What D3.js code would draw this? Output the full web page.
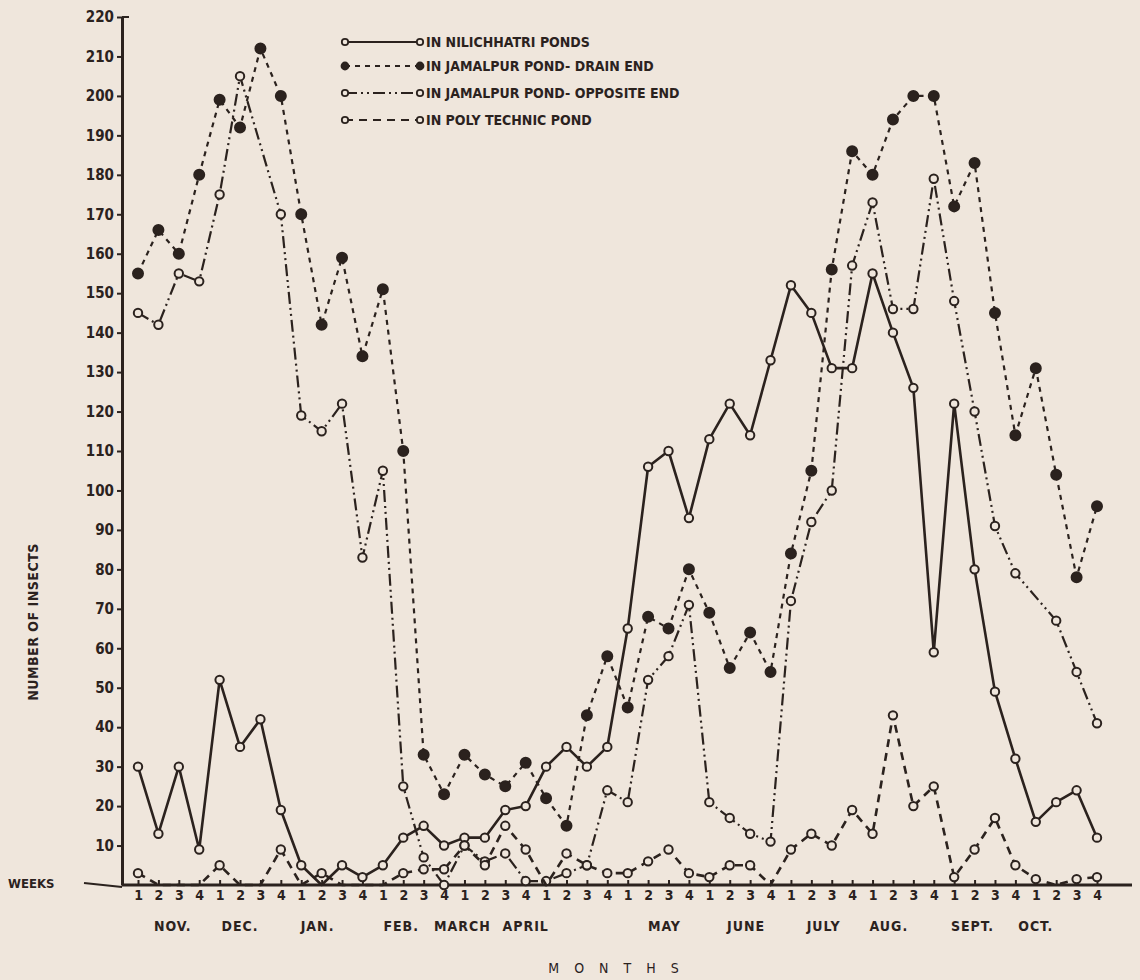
<!DOCTYPE html>
<html>
<head>
<meta charset="utf-8">
<script src="https://cdn.jsdelivr.net/npm/d3@7"></script>
<style>
  html, body { margin: 0; padding: 0; background: #efe6dc; }
  svg { display: block; }
  text { fill: #2b221e; font-family: "Liberation Sans Narrow", "DejaVu Sans Condensed", "DejaVu Sans", sans-serif; }
</style>
</head>
<body>
<svg id="chart" width="1140" height="980"></svg>
<script>
// ---------------- DATA ----------------
const months = ["NOV.", "DEC.", "JAN.", "FEB.", "MARCH", "APRIL", "MAY", "JUNE", "JULY", "AUG.", "SEPT.", "OCT."];
const weekLabels = ["1", "2", "3", "4"];
const yTicks = [10, 20, 30, 40, 50, 60, 70, 80, 90, 100, 110, 120, 130, 140, 150, 160, 170, 180, 190, 200, 210, 220];

const seriesNames = [
  "IN NILICHHATRI PONDS",
  "IN JAMALPUR POND- DRAIN END",
  "IN JAMALPUR POND- OPPOSITE END",
  "IN POLY TECHNIC POND"
];

const nilichhatri = [30, 13, 30, 9, 52, 35, 42, 19, 5, 0, 5, 2, 5, 12, 15, 10, 12, 12, 19, 20, 30, 35, 30, 35,
  65, 106, 110, 93, 113, 122, 114, 133, 152, 145, 131, 131, 155, 140, 126, 59, 122, 80, 49, 32, 16, 21, 24, 12];

const drainEnd = [155, 166, 160, 180, 199, 192, 212, 200, 170, 142, 159, 134, 151, 110, 33, 23, 33, 28, 25, 31, 22, 15, 43, 58,
  45, 68, 65, 80, 69, 55, 64, 54, 84, 105, 156, 186, 180, 194, 200, 200, 172, 183, 145, 114, 131, 104, 78, 96];

const oppositeEnd = [145, 142, 155, 153, 175, 205, null, 170, 119, 115, 122, 83, 105, 25, 7, 0, 10, 6, 8, 1, 1, 3, 5, 24,
  21, 52, 58, 71, 21, 17, 13, 11, 72, 92, 100, 157, 173, 146, 146, 179, 148, 120, 91, 79, null, 67, 54, 41];

const polytechnic = [3, 0, 0, 0, 5, 0, 0, 9, 0, 3, 0, 0, 0, 3, 4, 4, 10, 5, 15, 9, 0, 8, 5, 3,
  3, 6, 9, 3, 2, 5, 5, 0, 9, 13, 10, 19, 13, 43, 20, 25, 2, 9, 17, 5, 1.5, 0, 1.5, 2];

// ---------------- LAYOUT ----------------
// where each month name sits, in week units along the x scale (as lettered in the original)
const monthLabelAnchor = [1.7, 5.0, 8.8, 12.9, 15.9, 19.0, 25.8, 29.8, 33.6, 36.8, 40.9, 44.0];

// ---------------- CHART ----------------
const ink = "#2b221e";
const bg = "#efe6dc";
const svg = d3.select("#chart");

const nWeeks = months.length * weekLabels.length;
const x = d3.scaleLinear().domain([0, nWeeks - 1]).range([138, 1097]);
const y = d3.scaleLinear().domain([0, 220]).range([885, 17]);

// y axis
const yAxis = svg.append("g")
  .attr("transform", "translate(122,0)")
  .call(d3.axisLeft(y).tickValues(yTicks).tickSize(5).tickSizeOuter(0).tickPadding(3));
yAxis.select(".domain").attr("stroke", ink).attr("stroke-width", 3);
yAxis.selectAll(".tick line").attr("stroke", ink).attr("stroke-width", 2);
yAxis.selectAll(".tick text")
  .style("font-size", "15px").style("font-weight", "bold").attr("fill", ink);
yAxis.append("line").attr("x1", 0).attr("x2", 7).attr("y1", y(220)).attr("y2", y(220))
  .attr("stroke", ink).attr("stroke-width", 2);

// x axis (weeks)
const weekIdx = d3.range(nWeeks);
const xAxis = svg.append("g")
  .attr("transform", `translate(0,${y(0)})`)
  .call(d3.axisBottom(x).tickValues(weekIdx).tickSize(-5).tickSizeOuter(0).tickPadding(5)
    .tickFormat(i => weekLabels[i % weekLabels.length]));
xAxis.select(".domain").remove();
xAxis.append("line").attr("x1", 122).attr("x2", 1132).attr("y1", 0).attr("y2", 0)
  .attr("stroke", ink).attr("stroke-width", 3);
xAxis.selectAll(".tick line").attr("stroke", ink).attr("stroke-width", 2);
xAxis.selectAll(".tick text")
  .style("font-size", "14px").style("font-weight", "bold").attr("fill", ink);

// WEEKS label + leader
svg.append("text").attr("x", 8).attr("y", 888).text("WEEKS")
  .style("font-size", "13px").style("font-weight", "bold");
svg.append("line").attr("x1", 84).attr("x2", 122).attr("y1", 883).attr("y2", 887)
  .attr("stroke", ink).attr("stroke-width", 2);

// month labels
svg.append("g").selectAll("text").data(months).join("text")
  .attr("x", (d, i) => x(monthLabelAnchor[i]))
  .attr("y", 931)
  .attr("text-anchor", "middle")
  .style("font-size", "14px").style("font-weight", "bold").style("letter-spacing", "1px")
  .text(d => d);

svg.append("text").attr("x", 621).attr("y", 973).attr("text-anchor", "middle")
  .style("font-size", "14px").style("letter-spacing", "15px").text("MONTHS");

svg.append("text")
  .attr("transform", "translate(38,622) rotate(-90)")
  .attr("text-anchor", "middle")
  .style("font-size", "14px").style("font-weight", "bold").style("letter-spacing", "0.5px")
  .text("NUMBER OF INSECTS");

// series styles
const styles = [
  { data: nilichhatri, dash: null, width: 2.6, filled: false, skipZero: true },
  { data: drainEnd, dash: "5,5", width: 2.2, filled: true, skipZero: false },
  { data: oppositeEnd, dash: "12,4,2,4,2,4", width: 2.2, filled: false, skipZero: false },
  { data: polytechnic, dash: "8,6", width: 2.6, filled: false, skipZero: true }
];

const line = d3.line().x(d => x(d.i)).y(d => y(d.v));

styles.forEach(s => {
  const pts = s.data.map((v, i) => ({ i, v })).filter(d => d.v !== null);
  svg.append("path").datum(pts)
    .attr("d", line).attr("fill", "none")
    .attr("stroke", ink).attr("stroke-width", s.width)
    .attr("stroke-dasharray", s.dash)
    .attr("stroke-linejoin", "round");
  svg.append("g").selectAll("circle")
    .data(pts.filter(d => !(s.skipZero && d.v === 0)))
    .join("circle")
    .attr("cx", d => x(d.i)).attr("cy", d => y(d.v))
    .attr("r", s.filled ? 5 : 4.2)
    .attr("fill", s.filled ? ink : bg)
    .attr("stroke", ink).attr("stroke-width", 2);
});

// legend
const legendRows = [42, 66, 93, 120];
const lg = svg.append("g");
styles.forEach((s, k) => {
  const yy = legendRows[k];
  lg.append("line").attr("x1", 345).attr("x2", 420).attr("y1", yy).attr("y2", yy)
    .attr("stroke", ink).attr("stroke-width", s.width - 0.4).attr("stroke-dasharray", s.dash);
  [345, 420].forEach(cx => {
    lg.append("circle").attr("cx", cx).attr("cy", yy).attr("r", s.filled ? 3.5 : 3.2)
      .attr("fill", s.filled ? ink : bg).attr("stroke", ink).attr("stroke-width", 1.8);
  });
  lg.append("text").attr("x", 426).attr("y", yy + 5)
    .style("font-size", "14px").style("font-weight", "bold")
    .text(seriesNames[k]);
});
</script>
</body>
</html>
